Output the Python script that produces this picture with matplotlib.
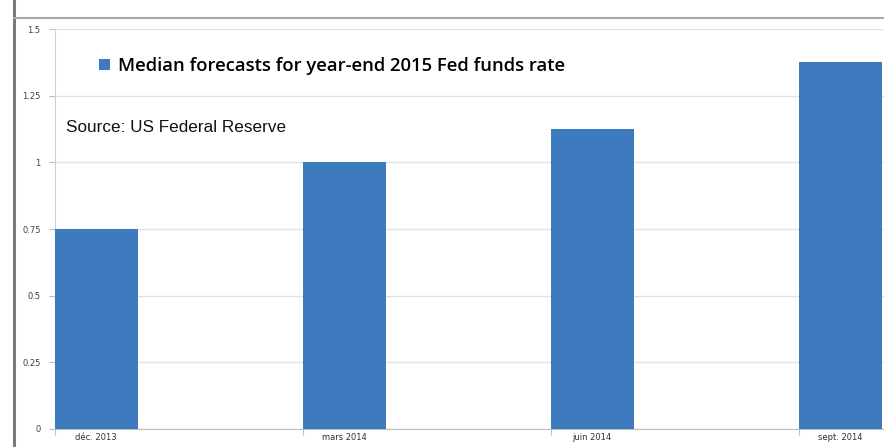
import matplotlib.pyplot as plt
from matplotlib.patches import Patch

# data
dates = ['déc. 2013', 'mars 2014', 'juin 2014', 'sept. 2014']
median_rate = [0.75, 1.0, 1.125, 1.375]
y_ticks = [0, 0.25, 0.5, 0.75, 1, 1.25, 1.5]
y_tick_labels = ['0', '0.25', '0.5', '0.75', '1', '1.25', '1.5']

bar_color = '#3e7bbe'
bar_width = 0.335

fig = plt.figure(figsize=(8.84, 4.47), dpi=100)
ax = fig.add_axes([54.5 / 884, 18 / 447, 1 - 54.5 / 884, 400 / 447])

positions = list(range(len(dates)))
ax.bar(positions, median_rate, width=bar_width, align='edge', color=bar_color, zorder=3)

ax.set_xlim(0, (884 - 54.5) / 248)
ax.set_ylim(0, 1.5)

# y axis
ax.set_yticks(y_ticks)
ax.set_yticklabels(y_tick_labels, fontsize=6, color='#404040', family='DejaVu Sans')
ax.tick_params(axis='y', length=4, color='#bfbfbf', pad=6)
ax.grid(axis='y', color='#e2e2e2', linewidth=1, zorder=0)

# x axis: tick marks at each date, labels centred under bars
ax.set_xticks(positions)
ax.set_xticklabels([])
ax.tick_params(axis='x', which='major', length=4, color='#bfbfbf')
ax.set_xticks([p + bar_width / 2 for p in positions], minor=True)
ax.set_xticklabels(dates, minor=True, fontsize=6, color='#303030', family='DejaVu Sans')
ax.tick_params(axis='x', which='minor', length=0, pad=3)

for side in ['top', 'right']:
    ax.spines[side].set_visible(False)
ax.spines['left'].set_color('#d0d0d0')
ax.spines['bottom'].set_color('#bfbfbf')

# legend
handle = Patch(facecolor=bar_color, label='Median forecasts for year-end 2015 Fed funds rate')
ax.legend(handles=[handle], loc='center left', bbox_to_anchor=((82 - 54.5) / 829.5, (429 - 66) / 400),
          frameon=False, handlelength=0.6, handleheight=0.55, handletextpad=0.45,
          prop={'family': 'Open Sans', 'weight': 'semibold', 'size': 13.3})

fig.text(66 / 884, 1 - 127 / 447, 'Source: US Federal Reserve', fontsize=12.3,
         family='Liberation Sans', va='center', ha='left', color='#111111')

# frame lines of the screenshot
fig.add_artist(plt.Line2D([14 / 884, 14 / 884], [0, 1], color='#7a7a7a', linewidth=2.2))
fig.add_artist(plt.Line2D([14 / 884, 1], [1 - 18 / 447, 1 - 18 / 447], color='#a8a8a8', linewidth=1.5))

fig.savefig('out.png', dpi=100)
